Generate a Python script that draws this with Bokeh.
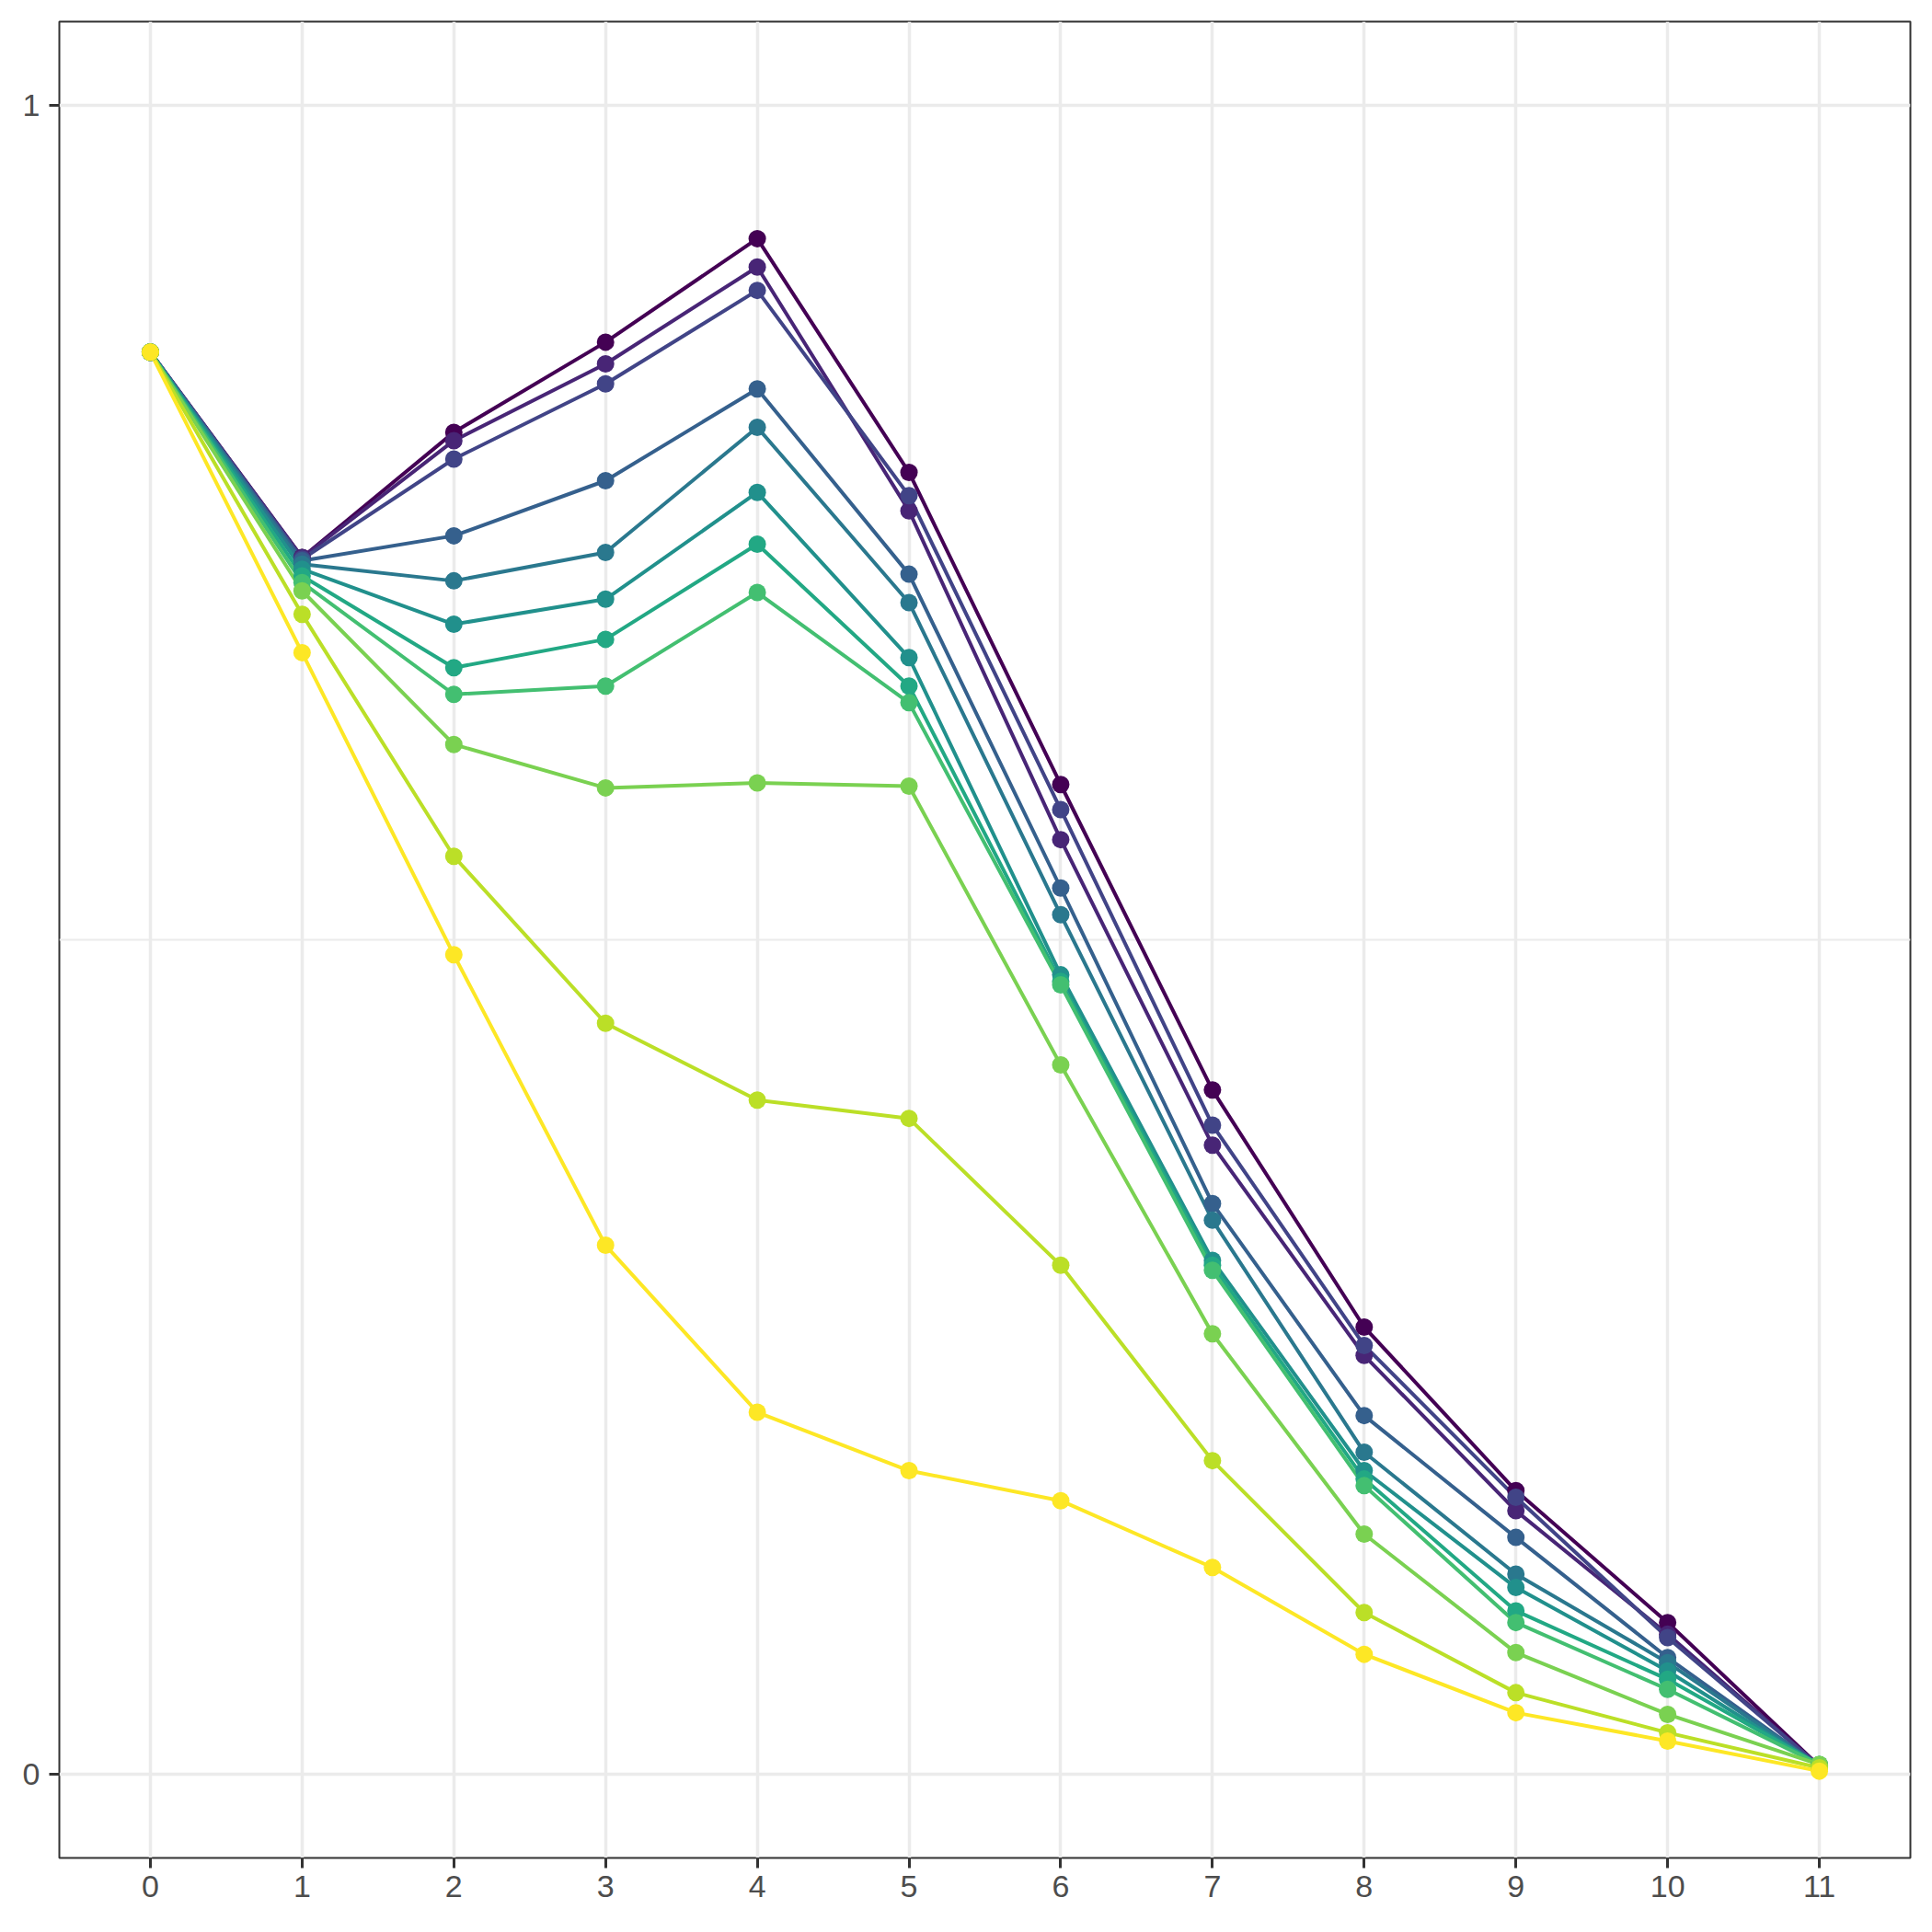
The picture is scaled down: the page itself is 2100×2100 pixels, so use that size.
from bokeh.plotting import figure
from bokeh.models import Range1d, FixedTicker
from bokeh.embed import file_html
from bokeh.resources import INLINE

steps = list(range(12))

s1 = [0.852, 0.729, 0.804, 0.858, 0.920, 0.780, 0.593, 0.410, 0.268, 0.170, 0.091, 0.005]
s2 = [0.852, 0.729, 0.799, 0.845, 0.903, 0.757, 0.560, 0.377, 0.251, 0.158, 0.084, 0.005]
s3 = [0.852, 0.728, 0.788, 0.833, 0.889, 0.766, 0.578, 0.389, 0.257, 0.166, 0.082, 0.005]
s4 = [0.852, 0.727, 0.742, 0.775, 0.830, 0.719, 0.531, 0.342, 0.215, 0.142, 0.070, 0.005]
s5 = [0.852, 0.725, 0.715, 0.732, 0.807, 0.702, 0.515, 0.332, 0.193, 0.120, 0.067, 0.005]
s6 = [0.852, 0.722, 0.689, 0.704, 0.768, 0.669, 0.479, 0.308, 0.182, 0.112, 0.062, 0.005]
s7 = [0.852, 0.718, 0.663, 0.680, 0.737, 0.652, 0.475, 0.305, 0.177, 0.098, 0.057, 0.006]
s8 = [0.852, 0.714, 0.647, 0.652, 0.708, 0.642, 0.473, 0.302, 0.173, 0.091, 0.051, 0.006]
s9 = [0.852, 0.709, 0.617, 0.591, 0.594, 0.592, 0.425, 0.264, 0.144, 0.073, 0.036, 0.006]
s10 = [0.852, 0.695, 0.550, 0.450, 0.404, 0.393, 0.305, 0.188, 0.097, 0.049, 0.025, 0.004]
s11 = [0.852, 0.672, 0.491, 0.317, 0.217, 0.182, 0.164, 0.124, 0.072, 0.037, 0.020, 0.002]

series = [s1, s2, s3, s4, s5, s6, s7, s8, s9, s10, s11]
colors = ["#440154", "#482576", "#414487", "#35608D", "#2A788E", "#21908C",
          "#22A884", "#43BF71", "#7AD151", "#BBDF27", "#FDE725"]

y_ticks = [0, 1]
y_minor = [0.5]
x_ticks = steps

p = figure(width=2084, height=2084, output_backend="svg", toolbar_location=None,
           x_range=Range1d(-0.6, 11.6), y_range=Range1d(-0.05, 1.05))
p.min_border_left = 64
p.min_border_top = 23
p.min_border_right = 8
p.min_border_bottom = 65
p.background_fill_color = "white"
p.border_fill_color = "white"
p.outline_line_color = "#333333"
p.outline_line_width = 2

for ax in (p.xaxis, p.yaxis):
    ax.axis_line_color = None
    ax.major_tick_out = 11
    ax.major_tick_in = 0
    ax.major_tick_line_width = 3
    ax.major_tick_line_color = "#333333"
    ax.minor_tick_line_color = None
    ax.major_label_text_font = "Liberation Sans"
    ax.major_label_text_font_size = "34px"
    ax.major_label_text_color = "#4D4D4D"

p.xaxis.ticker = FixedTicker(ticks=x_ticks)
p.yaxis.ticker = FixedTicker(ticks=y_ticks, minor_ticks=y_minor)
p.xaxis.major_label_standoff = 8
p.yaxis.major_label_standoff = 10

p.xgrid.ticker = FixedTicker(ticks=x_ticks)
p.ygrid.ticker = FixedTicker(ticks=y_ticks, minor_ticks=y_minor)
p.grid.grid_line_color = "#EBEBEB"
p.grid.grid_line_width = 3.5
p.ygrid.minor_grid_line_color = "#EBEBEB"
p.ygrid.minor_grid_line_width = 1.8

for ys, c in zip(series, colors):
    p.line(steps, ys, line_color=c, line_width=4)
for ys, c in zip(series, colors):
    p.scatter(steps, ys, size=19, fill_color=c, line_color=c, line_width=0)

open("out.html", "w").write(file_html(p, INLINE))
